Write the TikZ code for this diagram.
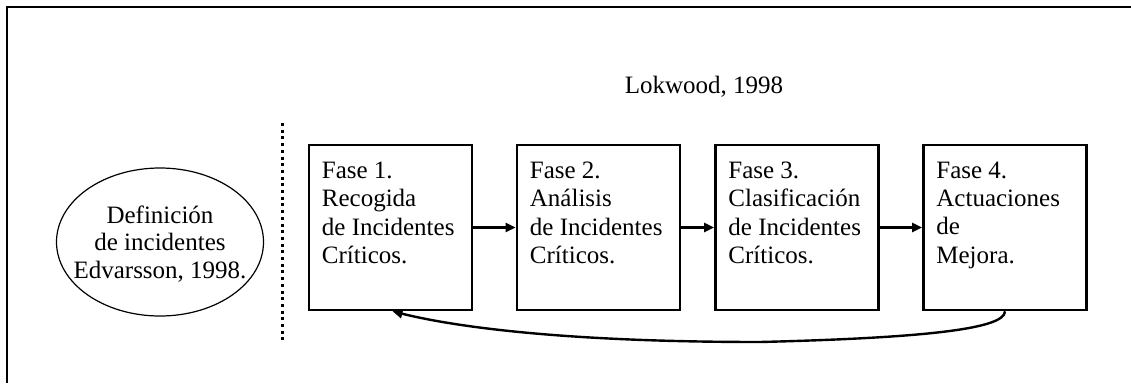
\documentclass[tikz,border=0pt]{standalone}
\usepackage{fontspec}
\setmainfont{Liberation Serif}
\usetikzlibrary{arrows.meta,shapes.geometric}
\begin{document}
\begin{tikzpicture}[x=1pt, y=-1pt,
  fase/.style={draw, line width=2.6pt, minimum width=163pt, minimum height=165pt, inner sep=0pt},
  fasetxt/.style={anchor=north west, align=left, inner sep=0pt, font=\fontsize{25}{28.3}\selectfont},
  flecha/.style={line width=2.4pt, -{Triangle[length=10pt, width=9pt]}}]
\useasboundingbox (0,0) rectangle (1131,383);
\draw[line width=2.4pt] (7,383) -- (7,7) -- (1131,7);
\node[ellipse, draw, line width=1.2pt, minimum width=207pt, minimum height=148pt, inner sep=0pt] (defi) at (160,242) {};
\node[align=center, inner sep=0pt, font=\fontsize{25}{27.5}\selectfont] (defitxt) at (160,244) {Definición\\de incidentes\\Edvarsson, 1998.};
\node[anchor=base, inner sep=0pt, font=\fontsize{25}{28}\selectfont] (lok) at (704,93) {Lokwood, 1998};
\coordinate (sep1) at (282,123);
\coordinate (sep2) at (282,341);
\draw[line width=3pt, dash pattern=on 3pt off 3.7pt] (sep1) -- (sep2);
\node[fase] (f1) at (390.5,227.5) {};
\node[fase] (f2) at (598.5,227.5) {};
\node[fase] (f3) at (797,227.5) {};
\node[fase] (f4) at (1005,227.5) {};
\node[fasetxt] (t1) at ([shift={(14,18)}]f1.north west) {Fase 1.\\Recogida\\de Incidentes\\Críticos.};
\node[fasetxt] (t2) at ([shift={(14,18)}]f2.north west) {Fase 2.\\Análisis\\de Incidentes\\Críticos.};
\node[fasetxt] (t3) at ([shift={(14,18)}]f3.north west) {Fase 3.\\Clasificación\\de Incidentes\\Críticos.};
\node[fasetxt] (t4) at ([shift={(14,18)}]f4.north west) {Fase 4.\\Actuaciones\\de\\Mejora.};
\draw[flecha] (f1) -- (f2);
\draw[flecha] (f2) -- (f3);
\draw[flecha] (f3) -- (f4);
\coordinate (lazo) at (760,342);
\draw[flecha] (f4.south) .. controls +(0,18) and +(160,-4) .. (lazo) .. controls +(-200,0) and +(60,15) .. ([xshift=2pt]f1.south);
\end{tikzpicture}
\end{document}
